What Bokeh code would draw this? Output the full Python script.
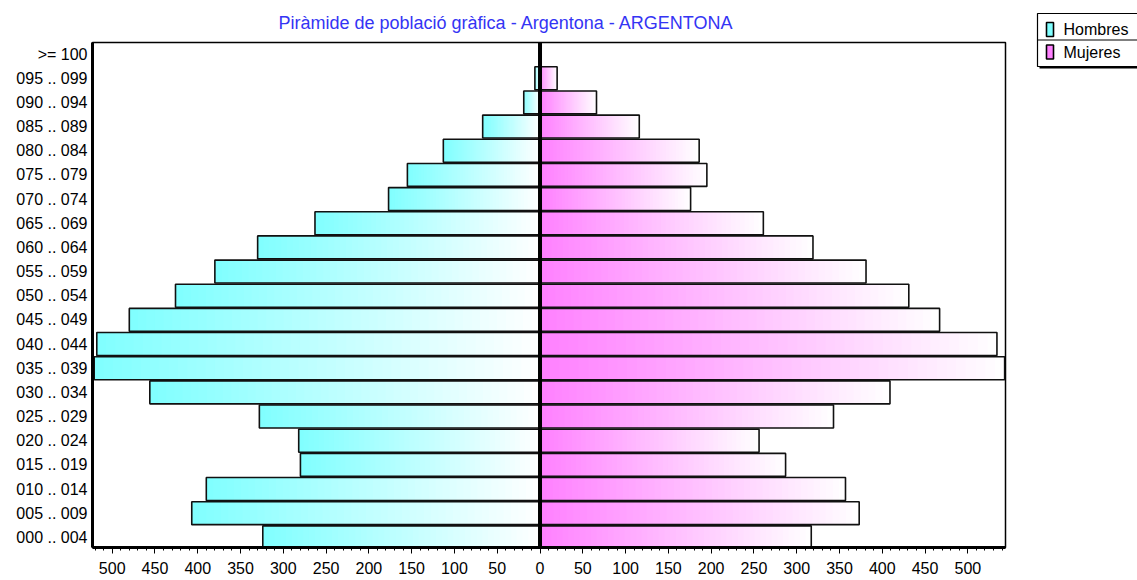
from bokeh.plotting import figure
from bokeh.models import Range1d, FixedTicker, Span
from bokeh.layouts import row
from bokeh.embed import file_html
from bokeh.resources import INLINE
from bokeh.core.properties import value

# ---------------- data ----------------
age_groups = ["000 .. 004", "005 .. 009", "010 .. 014", "015 .. 019", "020 .. 024",
              "025 .. 029", "030 .. 034", "035 .. 039", "040 .. 044", "045 .. 049",
              "050 .. 054", "055 .. 059", "060 .. 064", "065 .. 069", "070 .. 074",
              "075 .. 079", "080 .. 084", "085 .. 089", "090 .. 094", "095 .. 099",
              ">= 100"]
hombres = [324, 407, 390, 280, 282, 328, 456, 521, 518, 480,
           426, 380, 330, 263, 177, 155, 113, 67, 19, 6, 0]
mujeres = [317, 373, 357, 287, 256, 343, 409, 543, 534, 467,
           431, 381, 319, 261, 176, 195, 186, 116, 66, 20, 0]
x_ticks = [-500, -450, -400, -350, -300, -250, -200, -150, -100, -50, 0,
           50, 100, 150, 200, 250, 300, 350, 400, 450, 500]
x_tick_labels = ["500", "450", "400", "350", "300", "250", "200", "150", "100", "50", "0",
                 "50", "100", "150", "200", "250", "300", "350", "400", "450", "500"]
legend_labels = ["Hombres", "Mujeres"]
series_colors = ["#80FFFF", "#FF80FF"]
title_text = "Piràmide de població gràfica - Argentona - ARGENTONA"

FONT = "Liberation Sans"


def hex_to_rgb(h):
    h = h.lstrip("#")
    return tuple(int(h[i:i + 2], 16) for i in (0, 2, 4))


def gradient_slices(lefts, rights, ys, color, n=48, h=0.95):
    r0, g0, b0 = hex_to_rgb(color)
    L, R, T, B, C = [], [], [], [], []
    for l, r, y in zip(lefts, rights, ys):
        if r - l <= 0:
            continue
        w = (r - l) / n
        for k in range(n):
            t = (k + 0.5) / n
            c = (round(r0 + (255 - r0) * t), round(g0 + (255 - g0) * t), round(b0 + (255 - b0) * t))
            L.append(l + k * w)
            R.append(l + (k + 1) * w + (w * 0.6 if k < n - 1 else 0))
            T.append(y + h / 2)
            B.append(y - h / 2)
            C.append("#%02x%02x%02x" % c)
    return dict(left=L, right=R, top=T, bottom=B, color=C)


ys = list(range(len(age_groups)))
men_left = [-v for v in hombres]
men_right = [0] * len(hombres)
wom_left = [0] * len(mujeres)
wom_right = list(mujeres)

# ---------------- main figure ----------------
p = figure(width=1030, height=580,
           x_range=Range1d(-523, 544), y_range=Range1d(-0.42, 20.48),
           output_backend="svg", toolbar_location=None,
           min_border_left=92, min_border_right=25,
           min_border_top=42, min_border_bottom=33,
           background_fill_color="white", border_fill_color="white")

p.title.text = title_text
p.title.align = "left"
p.title.offset = 186
p.title.text_font = FONT
p.title.text_font_size = "18px"
p.title.text_font_style = "normal"
p.title.text_color = "#3434F4"
p.title.standoff = 20

p.xgrid.visible = False
p.ygrid.visible = False
p.outline_line_color = "black"
p.outline_line_width = 1.5

# gradient bars
for lefts, rights, col in ((men_left, men_right, series_colors[0]),
                           (wom_left, wom_right, series_colors[1])):
    d = gradient_slices(lefts, rights, ys, col)
    p.quad(left=d["left"], right=d["right"], top=d["top"], bottom=d["bottom"],
           fill_color=d["color"], line_color=None)

# bar outlines
for lefts, rights in ((men_left, men_right), (wom_left, wom_right)):
    p.quad(left=lefts, right=rights,
           top=[y + 0.475 for y in ys], bottom=[y - 0.475 for y in ys],
           fill_alpha=0, line_color="#111111", line_width=1.6)

p.add_layout(Span(location=0, dimension="height", line_color="black", line_width=4))

# axes
p.xaxis.ticker = FixedTicker(ticks=x_ticks, minor_ticks=list(range(-520, 545, 10)))
p.xaxis.major_label_overrides = {t: lab for t, lab in zip(x_ticks, x_tick_labels)}
p.xaxis.major_tick_out = 6
p.xaxis.major_tick_in = 0
p.xaxis.minor_tick_out = 3
p.xaxis.minor_tick_in = 0
p.xaxis.major_label_standoff = 8
p.xaxis.axis_line_width = 3
p.xaxis.major_tick_line_color = "black"
p.xaxis.minor_tick_line_color = "black"

p.yaxis.ticker = FixedTicker(ticks=ys)
p.yaxis.major_label_overrides = {i: lab for i, lab in enumerate(age_groups)}
p.yaxis.major_tick_out = 0
p.yaxis.major_tick_in = 0
p.yaxis.minor_tick_out = 0
p.yaxis.minor_tick_in = 0
p.yaxis.major_label_standoff = 5
p.yaxis.axis_line_width = 3

for ax in (p.xaxis, p.yaxis):
    ax.axis_line_color = "black"
    ax.major_label_text_font = FONT
    ax.major_label_text_font_size = "16px"
    ax.major_label_text_color = "black"

# ---------------- legend figure ----------------
lg = figure(width=107, height=580, x_range=Range1d(0, 107), y_range=Range1d(580, 0),
            output_backend="svg", toolbar_location=None,
            x_axis_type=None, y_axis_type=None,
            min_border_left=0, min_border_right=0, min_border_top=0, min_border_bottom=0,
            outline_line_color=None, background_fill_color="white", border_fill_color="white")
lg.title = None
lg.grid.visible = False
lg.frame_align = False
p.frame_align = False

# shadow, box, divider
lg.quad(left=[9], right=[140], top=[15], bottom=[68], fill_color="black", line_color=None)
lg.quad(left=[7], right=[138], top=[13], bottom=[66], fill_color="white",
        line_color="black", line_width=1.2)
lg.segment(x0=[7], y0=[39.5], x1=[138], y1=[39.5], line_color="black", line_width=1.2)

sw_y = [29, 51.5]
lg.quad(left=[16, 16], right=[23, 23],
        top=[y - 7 for y in sw_y], bottom=[y + 7 for y in sw_y],
        fill_color=series_colors, line_color="black", line_width=1.6)
lg.text(x=[33, 33], y=sw_y, text=legend_labels, text_baseline="middle", text_align="left",
        text_font=value(FONT), text_font_size="16px", text_color="black")

layout = row(p, lg, spacing=0)

open("out.html", "w").write(file_html(layout, INLINE))
